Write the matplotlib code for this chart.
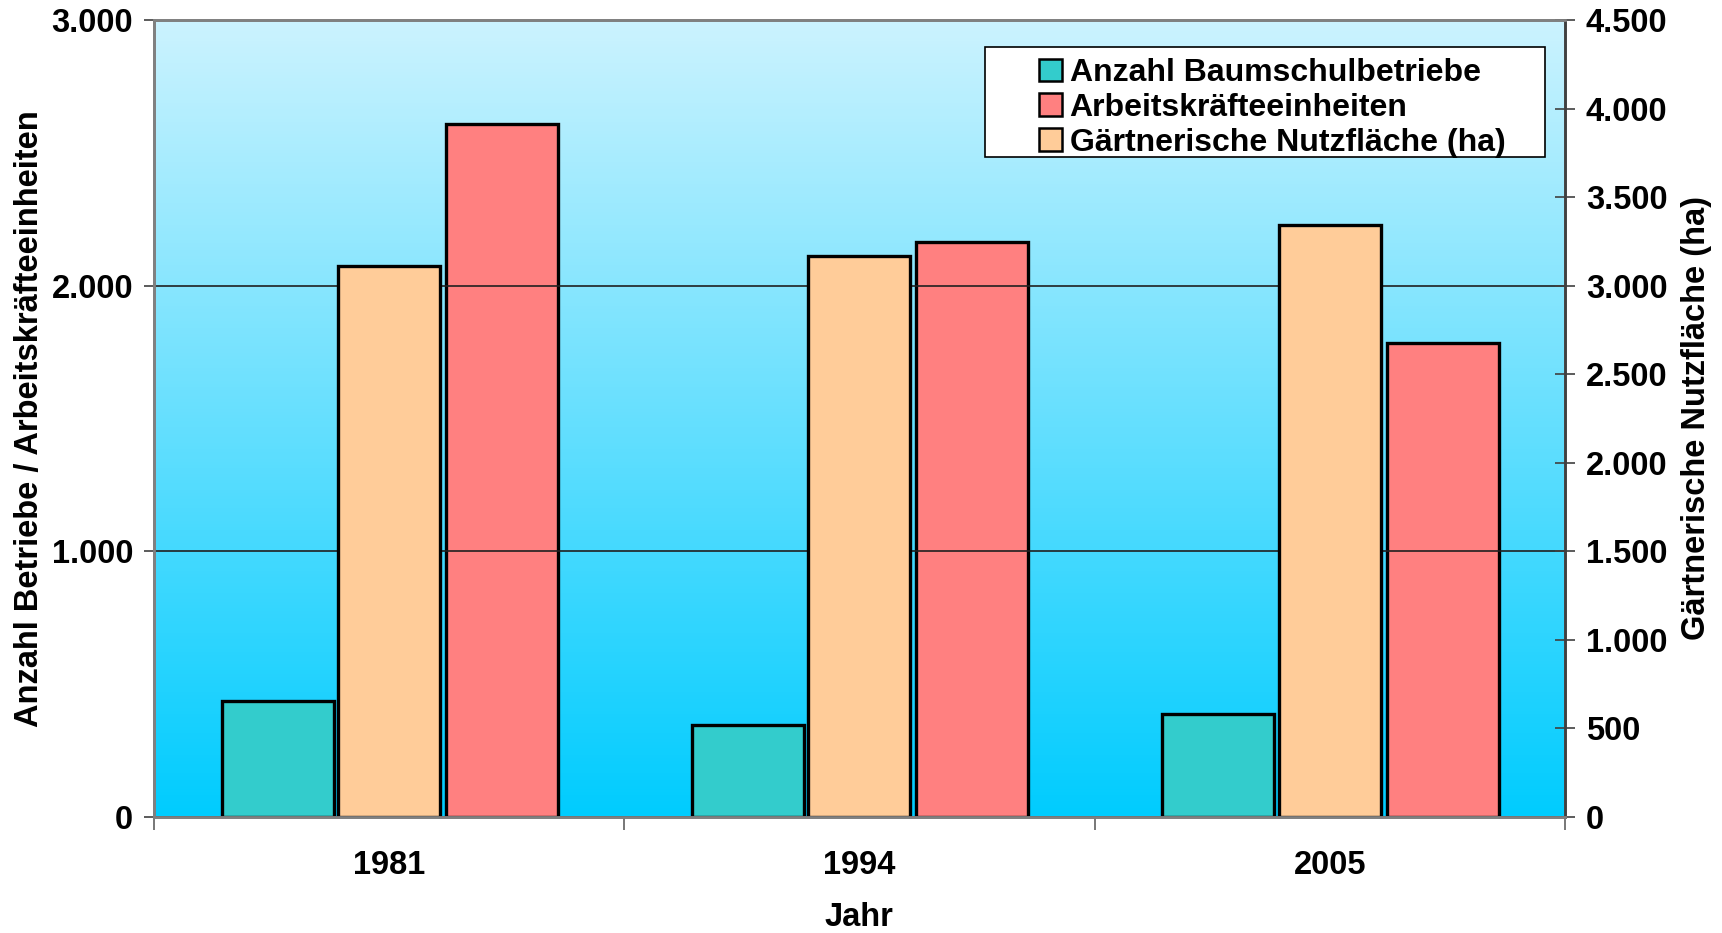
import numpy as np
import matplotlib
matplotlib.use("Agg")
import matplotlib.pyplot as plt
from matplotlib.colors import LinearSegmentedColormap
from matplotlib.patches import Patch, Rectangle

# --- data ---
years = ["1981", "1994", "2005"]
betriebe = [437, 345, 389]          # left axis
arbeitskraefte = [2607, 2164, 1784]  # left axis
nutzflaeche = [3113, 3169, 3343]     # right axis (ha)

label_betriebe = "Anzahl Baumschulbetriebe"
label_ak = "Arbeitskräfteeinheiten"
label_nf = "Gärtnerische Nutzfläche (ha)"

c_teal = "#33CCCC"
c_red = "#FF8080"
c_orange = "#FFCC99"

plt.rcParams["font.family"] = ["Liberation Sans", "DejaVu Sans"]
plt.rcParams["font.weight"] = "bold"
FS = 23.5

fig = plt.figure(figsize=(17.22, 9.33), dpi=100)
ax = fig.add_axes([0.0894, 0.1243, 0.8194, 0.8543])
ax2 = ax.twinx()

x = np.arange(len(years))
ax.set_xlim(-0.5, len(years) - 0.5)
ax.set_ylim(0, 3000)
ax2.set_ylim(0, 4500)

# gradient background
cmap = LinearSegmentedColormap.from_list("bg", ["#00CCFF", "#CCF3FE"])
grad = np.linspace(0, 1, 256).reshape(-1, 1)
ax.imshow(grad, cmap=cmap, origin="lower", aspect="auto",
          extent=[-0.5, len(years) - 0.5, 0, 3000], zorder=0)

ax.yaxis.grid(True, color="#202020", linewidth=1.2)
ax.set_axisbelow(False)
for gl in ax.get_ygridlines():
    gl.set_zorder(0.5)

edge = dict(edgecolor="black", linewidth=2.4)
ax.bar(x - 0.237, betriebe, width=0.238, color=c_teal, zorder=2, **edge)
ax.bar(x + 0.240, arbeitskraefte, width=0.238, color=c_red, zorder=2, **edge)
ax2.bar(x, nutzflaeche, width=0.217, color=c_orange, zorder=2, **edge)

fmt = matplotlib.ticker.FuncFormatter(lambda v, p: f"{int(v):,}".replace(",", "."))
ax.set_yticks(np.arange(0, 3001, 1000))
ax.yaxis.set_major_formatter(fmt)
ax2.set_yticks(np.arange(0, 4501, 500))
ax2.yaxis.set_major_formatter(fmt)

ax.set_xticks(np.arange(-0.5, len(years), 1.0))
ax.set_xticklabels([])
ax.set_xticks(x, minor=True)
ax.set_xticklabels(years, minor=True)
ax.tick_params(axis="x", which="major", length=9, width=1.2, color="#606060", direction="out")
ax.tick_params(axis="x", which="minor", length=0, pad=24, labelsize=FS)
ax.tick_params(axis="y", length=7, width=1.2, color="#404040", direction="out", pad=8, labelsize=FS)
ax2.tick_params(axis="y", length=14, width=1.2, color="#404040", direction="inout", pad=8, labelsize=FS)

for a in (ax, ax2):
    for s in a.spines.values():
        s.set_color("#808080")
        s.set_linewidth(2)
ax2.spines["right"].set_color("#404040")

ax.set_xlabel("Jahr", fontsize=FS, fontweight="bold", labelpad=15)
ax.set_ylabel("Anzahl Betriebe / Arbeitskräfteeinheiten", fontsize=FS, fontweight="bold", labelpad=5)
ax2.set_ylabel("Gärtnerische Nutzfläche (ha)", fontsize=FS, fontweight="bold", labelpad=10)

# legend frame drawn separately (wider left margin as in the reference)
frame = Rectangle((0.589, 0.828), 0.397, 0.1376, transform=ax2.transAxes,
                  facecolor="white", edgecolor="black", linewidth=1.2, zorder=4)
ax2.add_patch(frame)

handles = [Patch(facecolor=c_teal, edgecolor="black", linewidth=1.8),
           Patch(facecolor=c_red, edgecolor="black", linewidth=1.8),
           Patch(facecolor=c_orange, edgecolor="black", linewidth=1.8)]
leg = ax2.legend(handles, [label_betriebe, label_ak, label_nf],
                 loc="upper left", bbox_to_anchor=(0.627, 0.952),
                 fontsize=23, frameon=False,
                 handlelength=0.72, handleheight=0.72, handletextpad=0.25,
                 labelspacing=0.15, borderpad=0.0, borderaxespad=0)
leg.set_zorder(5)

fig.savefig("out.png", dpi=100)
